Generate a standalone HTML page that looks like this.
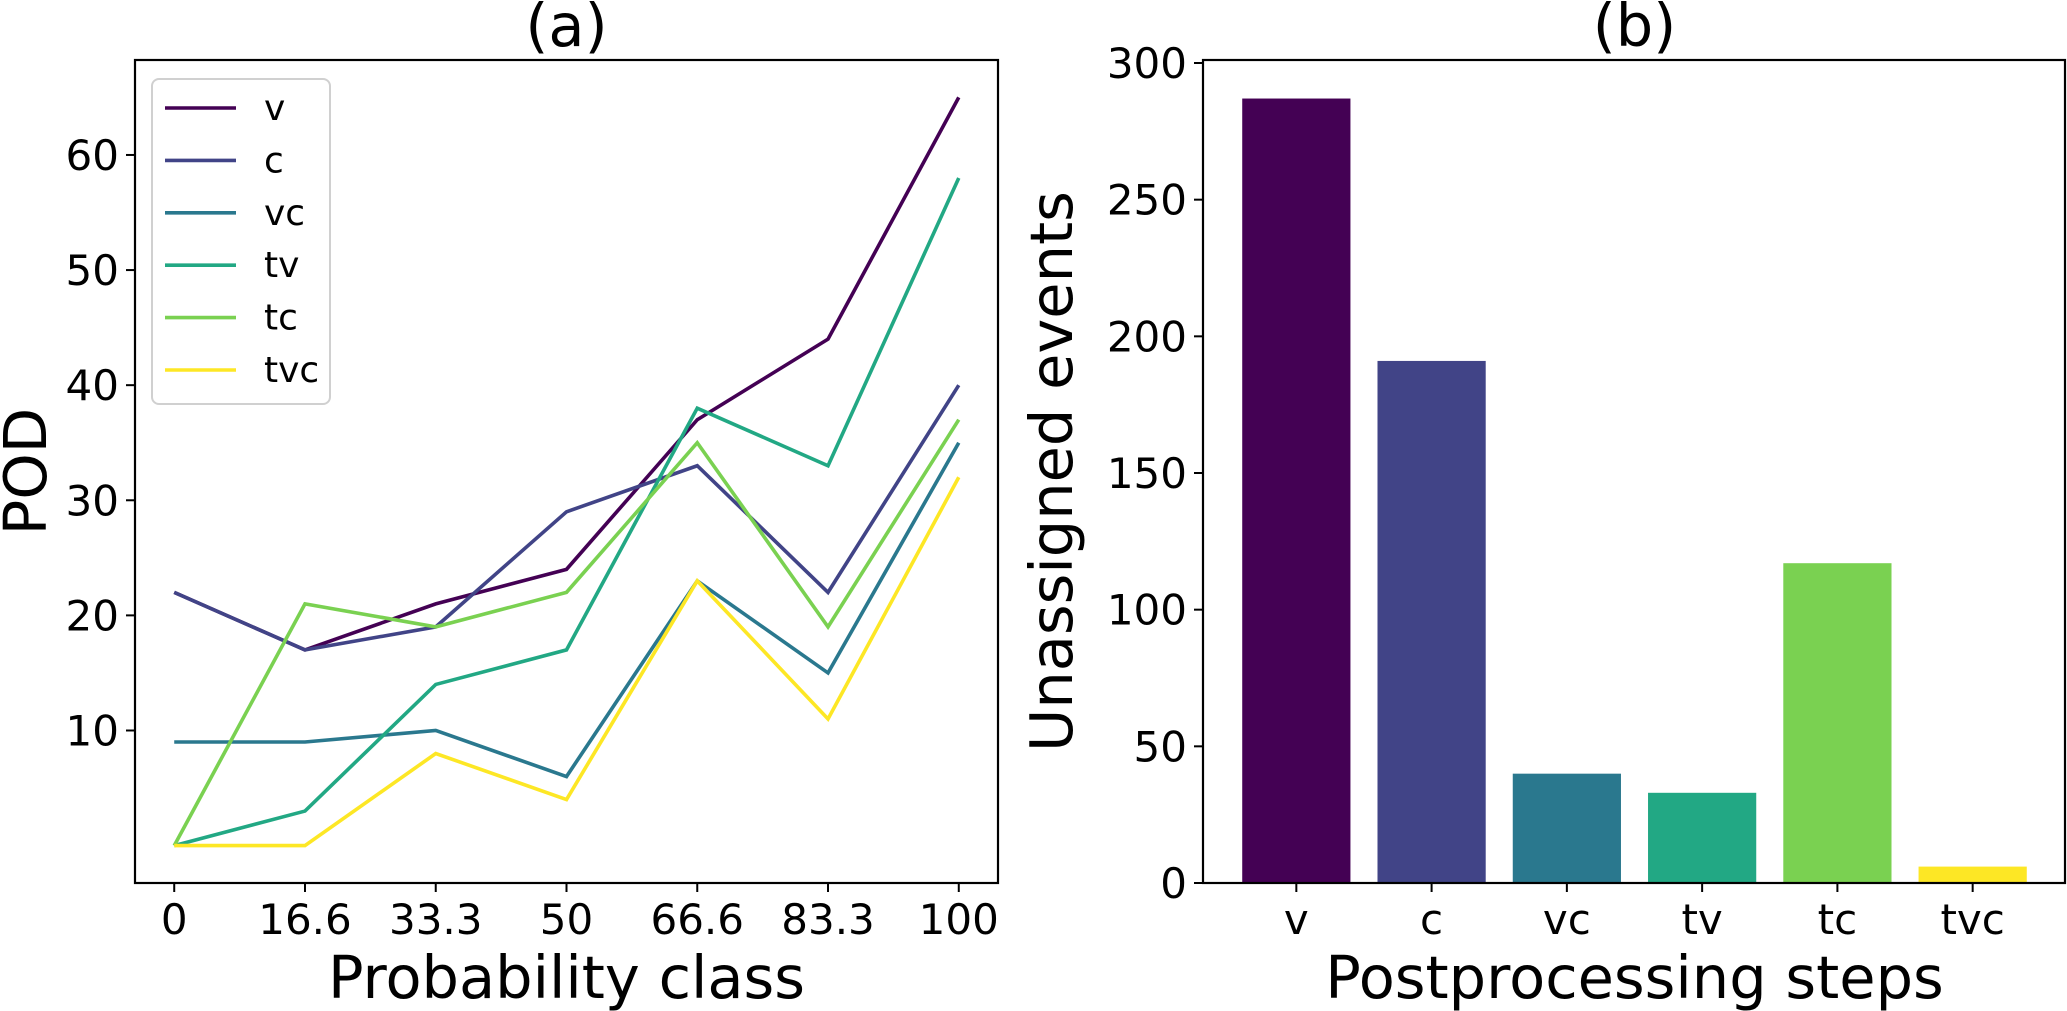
<!DOCTYPE html>
<html><head><meta charset="utf-8"><style>
html,body{margin:0;padding:0;background:#fff;}
svg{display:block;font-family:"DejaVu Sans","Liberation Sans",sans-serif;}
</style></head><body>
<svg id="fig" width="2067" height="1011" viewBox="0 0 2067 1011" xmlns="http://www.w3.org/2000/svg"></svg>
<script>
const xCats = ["0","16.6","33.3","50","66.6","83.3","100"];
const seriesNames = ["v","c","vc","tv","tc","tvc"];
const vVals = [22,17,21,24,37,44,65];
const cVals = [22,17,19,29,33,22,40];
const vcVals = [9,9,10,6,23,15,35];
const tvVals = [0,3,14,17,38,33,58];
const tcVals = [0,21,19,22,35,19,37];
const tvcVals = [0,0,8,4,23,11,32];
const podTicks = [10,20,30,40,50,60];
const barCats = ["v","c","vc","tv","tc","tvc"];
const barVals = [287,191,40,33,117,6];
const barTicks = [0,50,100,150,200,250,300];

const NS="http://www.w3.org/2000/svg";
const svg=document.getElementById('fig');
function mk(tag,attrs,parent){const e=document.createElementNS(NS,tag);for(const k in attrs)e.setAttribute(k,attrs[k]);(parent||svg).appendChild(e);return e;}
const colors=["#440154","#414487","#2a788e","#22a884","#7ad151","#fde725"];

// ---- Panel (a)
const A={l:135,r:998,t:60,b:883};
const ax=i=>A.l+(i+0.3)/6.6*(A.r-A.l);
const ay=v=>A.b-(v+3.25)/71.5*(A.b-A.t);
const gA=mk('g',{});


const allSeries=[vVals,cVals,vcVals,tvVals,tcVals,tvcVals];
allSeries.forEach((s,k)=>{
  const p=mk('polyline',{points:s.map((v,i)=>ax(i)+','+ay(v)).join(' '),fill:'none',stroke:colors[k],'stroke-width':3.6,'stroke-linejoin':'miter'},gA);
  
  
});
const frA=mk('rect',{x:A.l,y:A.t,width:A.r-A.l,height:A.b-A.t,fill:'none',stroke:'#000','stroke-width':2.2},gA);


xCats.forEach((c,i)=>{
  mk('line',{x1:ax(i),x2:ax(i),y1:A.b,y2:A.b+9,stroke:'#000','stroke-width':2},gA);
  const t=mk('text',{x:ax(i),y:934,'font-size':42,'text-anchor':'middle'},gA);t.textContent=c;
  
  
});
podTicks.forEach(v=>{
  mk('line',{x1:A.l-9,x2:A.l,y1:ay(v),y2:ay(v),stroke:'#000','stroke-width':2},gA);
  const t=mk('text',{x:A.l-16,y:ay(v)+15,'font-size':42,'text-anchor':'end'},gA);t.textContent=v;
  
  
});
let t=mk('text',{x:(A.l+A.r)/2,y:998,'font-size':59,'text-anchor':'middle'},gA);t.textContent='Probability class';


t=mk('text',{x:0,y:0,'font-size':59,'text-anchor':'middle',transform:`translate(46,${(A.t+A.b)/2}) rotate(-90)`},gA);t.textContent='POD';


t=mk('text',{x:(A.l+A.r)/2,y:46,'font-size':59,'text-anchor':'middle'},gA);t.textContent='(a)';


// legend
const lg=mk('g',{},gA);


mk('rect',{x:152,y:79,width:178,height:325,rx:7,fill:'#fff','fill-opacity':0.8,stroke:'#d0d0d0','stroke-width':2},lg);
seriesNames.forEach((n,k)=>{
  const y=108+k*52.4;
  const e=mk('g',{},lg);
  
  
  mk('line',{x1:165,x2:236,y1:y,y2:y,stroke:colors[k],'stroke-width':3.6},e);
  const tx=mk('text',{x:264,y:y+12,'font-size':36},e);tx.textContent=n;
});

// ---- Panel (b)
const B={l:1203,r:2066,t:60,b:883};
const bx=i=>B.l+(i+0.69)/6.38*(B.r-B.l);
const by=v=>B.b-(v/300)*(B.b-63);
const gB=mk('g',{});


const bw=0.8/6.38*(B.r-B.l);
barVals.forEach((v,i)=>{
  const r=mk('rect',{x:bx(i)-bw/2,y:by(v),width:bw,height:B.b-by(v),fill:colors[i]},gB);
  
  
});
const frB=mk('rect',{x:B.l,y:B.t,width:B.r-B.l-1,height:B.b-B.t,fill:'none',stroke:'#000','stroke-width':2.2},gB);


barCats.forEach((c,i)=>{
  mk('line',{x1:bx(i),x2:bx(i),y1:B.b,y2:B.b+9,stroke:'#000','stroke-width':2},gB);
  const tx=mk('text',{x:bx(i),y:934,'font-size':42,'text-anchor':'middle'},gB);tx.textContent=c;
  
  
});
barTicks.forEach(v=>{
  mk('line',{x1:B.l-9,x2:B.l,y1:by(v),y2:by(v),stroke:'#000','stroke-width':2},gB);
  const tx=mk('text',{x:B.l-16,y:by(v)+15,'font-size':42,'text-anchor':'end'},gB);tx.textContent=v;
  
  
});
t=mk('text',{x:(B.l+B.r)/2,y:998,'font-size':59,'text-anchor':'middle'},gB);t.textContent='Postprocessing steps';


t=mk('text',{x:0,y:0,'font-size':59,'text-anchor':'middle',transform:`translate(1072,${(B.t+B.b)/2}) rotate(-90)`},gB);t.textContent='Unassigned events';


t=mk('text',{x:(B.l+B.r)/2,y:46,'font-size':59,'text-anchor':'middle'},gB);t.textContent='(b)';


</script>
</body></html>
